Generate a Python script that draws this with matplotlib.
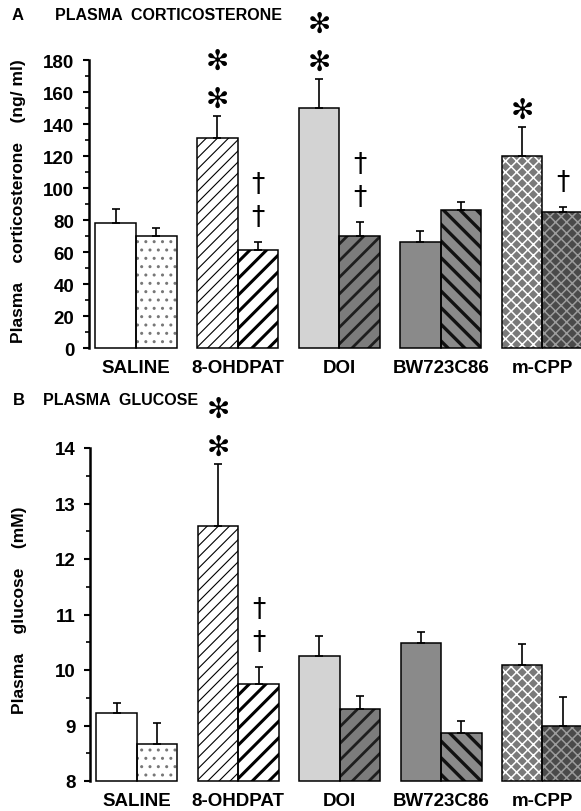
import matplotlib

matplotlib.use("Agg")
import matplotlib.pyplot as plt
import numpy as np
from matplotlib.ticker import MultipleLocator

# ── Data ──
groups = ["SALINE", "8-OHDPAT", "DOI", "BW723C86", "m-CPP"]

# Panel A: plasma corticosterone (ng/ml); first bar = agonist alone, second = + antagonist
cort_first = [78, 131, 150, 66, 120]
cort_first_sem = [9, 14, 18, 7, 18]
cort_second = [70, 61, 70, 86, 85]
cort_second_sem = [5, 5, 9, 5, 3]
cort_stars = [0, 2, 2, 0, 1]
cort_daggers = [0, 2, 2, 0, 1]

# Panel B: plasma glucose (mM)
glu_first = [9.23, 12.59, 10.25, 10.48, 10.09]
glu_first_sem = [0.18, 1.12, 0.37, 0.20, 0.37]
glu_second = [8.66, 9.75, 9.30, 8.86, 9.00]
glu_second_sem = [0.38, 0.30, 0.23, 0.23, 0.51]
glu_stars = [0, 2, 0, 0, 0]
glu_daggers = [0, 2, 0, 0, 0]

# (face, hatch, hatch colour, hatch linewidth)
FIRST_STYLES = [
    ("white", "", "black", 1.0),
    ("white", "///", "black", 0.8),
    ("#d3d3d3", "", "black", 1.0),
    ("#8a8a8a", "", "black", 1.0),
    ("#7a7a7a", "xxx", "white", 1.1),
]
SECOND_STYLES = [
    ("white", "..", "#777777", 1.0),
    ("white", "//", "black", 2.2),
    ("#7c7c7c", "//", "#1e1e1e", 2.0),
    ("#8a8a8a", "\\\\", "#111111", 2.4),
    ("#4a4a4a", "xxx", "#9c9c9c", 1.1),
]

FONT = "Liberation Sans"
BAR_W = 0.4
PX = 0.72  # pixels -> points at dpi 100


def draw_bar(ax, x, h, base, style):
    face, hatch, hcol, hlw = style
    with plt.rc_context({"hatch.linewidth": hlw}):
        b = ax.bar(x, h - base, BAR_W, bottom=base, color=face, edgecolor=hcol,
                   hatch=hatch, linewidth=0, zorder=2, clip_on=False)
        for p in b:
            if hasattr(p, "set_hatch_linewidth"):
                p.set_hatch_linewidth(hlw)
    ax.bar(x, h - base, BAR_W, bottom=base, fill=False, edgecolor="black",
           linewidth=1.1, zorder=3, clip_on=False)


def marks(ax, x, top, n, glyph, first_px, step_px, size):
    for k in range(n):
        ax.annotate(glyph, xy=(x, top), xytext=(0, (first_px + k * step_px) * PX),
                    textcoords="offset points", ha="center", va="center",
                    fontsize=size, family=["DejaVu Sans"], annotation_clip=False)


def panel(ax, first, first_sem, second, second_sem, stars, daggers, ylim, major, minor):
    x = np.arange(len(groups))
    base = ylim[0]
    for i in range(len(groups)):
        draw_bar(ax, x[i] - BAR_W / 2, first[i], base, FIRST_STYLES[i])
        draw_bar(ax, x[i] + BAR_W / 2, second[i], base, SECOND_STYLES[i])
    zeros = [0] * len(groups)
    for xs, v, s in [(x - BAR_W / 2, first, first_sem), (x + BAR_W / 2, second, second_sem)]:
        ax.errorbar(xs, v, yerr=[zeros, s], fmt="none", ecolor="black",
                    elinewidth=1.2, capsize=3, capthick=1.2, zorder=4, clip_on=False)
    for i in range(len(groups)):
        marks(ax, x[i] - BAR_W / 2, first[i] + first_sem[i], stars[i], "\u273b",
              17, 38, 20)
        marks(ax, x[i] + BAR_W / 2, second[i] + second_sem[i], daggers[i], "\u2020",
              25, 33, 19)

    ax.set_xlim(-0.463, 4.38)
    ax.set_ylim(*ylim)
    for side in ["top", "right", "bottom"]:
        ax.spines[side].set_visible(False)
    ax.spines["left"].set_linewidth(1.8)
    ax.yaxis.set_major_locator(MultipleLocator(major))
    ax.yaxis.set_minor_locator(MultipleLocator(minor))
    ax.tick_params(axis="y", which="major", length=4.5, width=1.5, pad=6,
                   labelsize=13.5)
    ax.tick_params(axis="y", which="minor", length=3, width=1.2)
    ax.set_xticks(x)
    ax.set_xticklabels(groups)
    ax.tick_params(axis="x", length=0, pad=8, labelsize=13.5)
    for t in ax.get_xticklabels() + ax.get_yticklabels():
        t.set_fontweight("bold")
        t.set_family(FONT)
    ax.patch.set_alpha(0)


fig = plt.figure(figsize=(5.81, 8.12), dpi=100)
ax1 = fig.add_axes([89 / 581, 1 - 349 / 812, 1 - 89 / 581, 288 / 812])
ax2 = fig.add_axes([90 / 581, 1 - 782 / 812, 1 - 90 / 581, 333 / 812])

panel(ax1, cort_first, cort_first_sem, cort_second, cort_second_sem,
      cort_stars, cort_daggers, (0, 180), 20, 10)
panel(ax2, glu_first, glu_first_sem, glu_second, glu_second_sem,
      glu_stars, glu_daggers, (8, 14), 1, 0.5)

txt = dict(fontweight="bold", family=FONT, va="center")
fig.text(12 / 581, 1 - 16 / 812, "A", fontsize=12, **txt)
fig.text(55 / 581, 1 - 16 / 812, "PLASMA  CORTICOSTERONE", fontsize=11.5, **txt)
fig.text(13 / 581, 1 - 401 / 812, "B", fontsize=12, **txt)
fig.text(43 / 581, 1 - 401 / 812, "PLASMA  GLUCOSE", fontsize=11.5, **txt)

fig.text(19 / 581, 1 - 201 / 812, "Plasma    corticosterone    (ng/ ml)", rotation=90,
         ha="center", fontsize=12.5, **txt)
fig.text(20 / 581, 1 - 610 / 812, "Plasma    glucose    (mM)", rotation=90,
         ha="center", fontsize=12.5, **txt)

fig.savefig("out.png", dpi=100)
